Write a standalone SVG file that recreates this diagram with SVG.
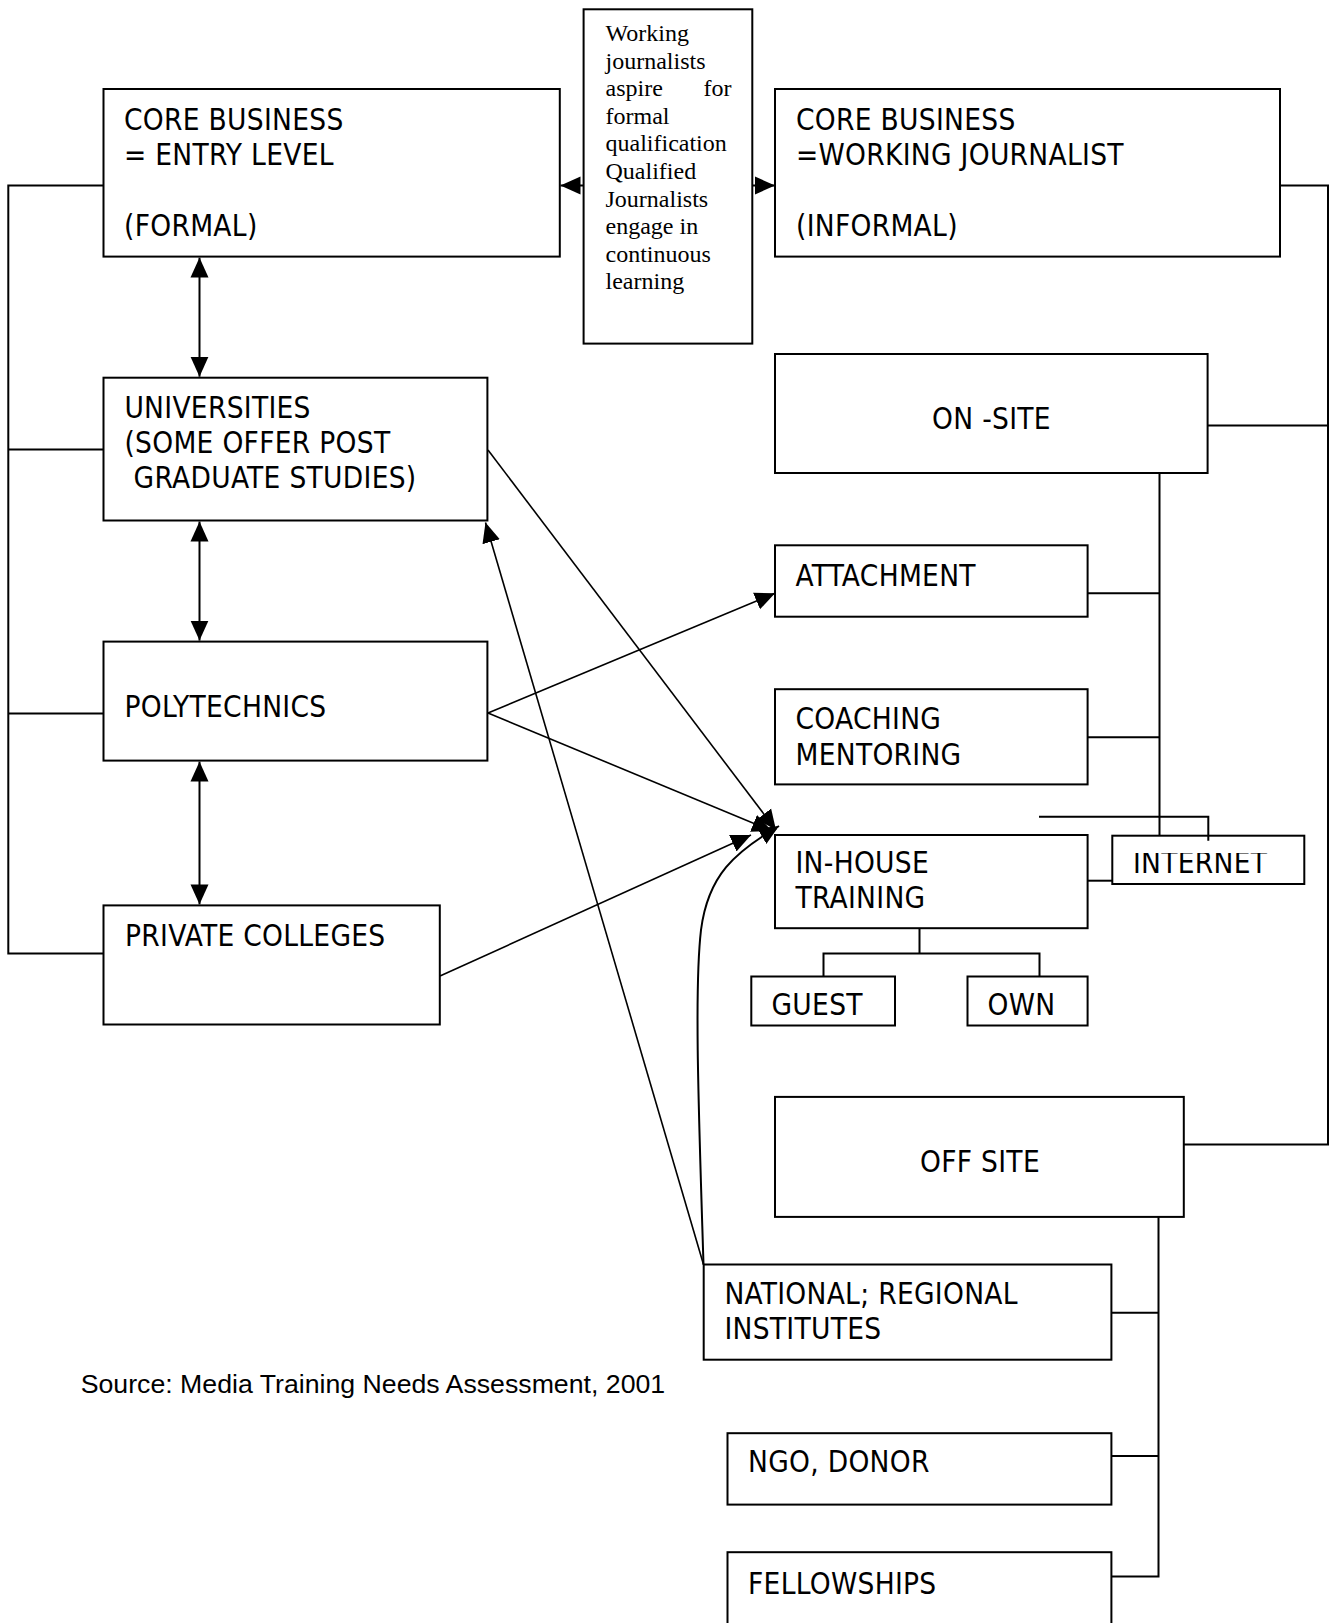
<svg xmlns="http://www.w3.org/2000/svg" width="1337" height="1623" viewBox="0 0 1337 1623">
<defs>
<style>
.box{fill:#fff;stroke:#000;stroke-width:2}
.t{font-family:"DejaVu Sans Condensed","DejaVu Sans",sans-serif;font-stretch:condensed;font-size:29.5px;letter-spacing:0.3px;fill:#000}
.s{font-family:"Liberation Serif","Times New Roman",serif;font-size:24px;fill:#000}
.src{font-family:"Liberation Sans",Arial,sans-serif;font-size:26.7px;fill:#000}
.ln{stroke:#000;stroke-width:2;fill:none}
.dg{stroke:#000;stroke-width:1.6;fill:none}
</style>
<marker id="ah" markerUnits="userSpaceOnUse" markerWidth="20" markerHeight="20" viewBox="0 0 20 20" refX="20" refY="10" orient="auto-start-reverse">
<path d="M0,1 L20,10 L0,19 z" fill="#000"/>
</marker>
<clipPath id="netclip"><rect x="1112" y="853" width="192" height="40"/></clipPath>
</defs>
<rect width="1337" height="1623" fill="#fff"/>

<g id="entry">
<rect class="box" x="103.5" y="89" width="456.3" height="167.6"/>
<text class="t" x="124" y="129.5">CORE BUSINESS</text>
<text class="t" x="124" y="165">= ENTRY LEVEL</text>
<text class="t" x="124" y="236">(FORMAL)</text>
</g>

<g id="note">
<rect class="box" x="583.6" y="9.3" width="168.7" height="334.3"/>
<text class="s" x="605.5" y="41">Working</text>
<text class="s" x="605.5" y="68.6">journalists</text>
<text class="s" x="605.5" y="96.2">aspire</text>
<text class="s" x="731.6" y="96.2" text-anchor="end">for</text>
<text class="s" x="605.5" y="123.8">formal</text>
<text class="s" x="605.5" y="151.4">qualification</text>
<text class="s" x="605.5" y="179">Qualified</text>
<text class="s" x="605.5" y="206.6">Journalists</text>
<text class="s" x="605.5" y="234.2">engage in</text>
<text class="s" x="605.5" y="261.8">continuous</text>
<text class="s" x="605.5" y="289.4">learning</text>
</g>

<g id="working">
<rect class="box" x="775" y="89" width="505" height="167.6"/>
<text class="t" x="796" y="129.5">CORE BUSINESS</text>
<text class="t" x="796" y="165">=WORKING JOURNALIST</text>
<text class="t" x="796" y="236">(INFORMAL)</text>
</g>

<g id="universities">
<rect class="box" x="103.5" y="377.7" width="383.9" height="142.8"/>
<text class="t" x="124.4" y="417.7">UNIVERSITIES</text>
<text class="t" x="124.4" y="452.7">(SOME OFFER POST</text>
<text class="t" x="133.6" y="487.7">GRADUATE STUDIES)</text>
</g>

<g id="onsite">
<rect class="box" x="775" y="354" width="432.6" height="119"/>
<text class="t" x="991.5" y="428.5" text-anchor="middle">ON -SITE</text>
</g>

<g id="attachment">
<rect class="box" x="775" y="545.3" width="312.6" height="71.4"/>
<text class="t" x="795.5" y="586">ATTACHMENT</text>
</g>

<g id="polytechnics">
<rect class="box" x="103.5" y="641.6" width="383.9" height="119"/>
<text class="t" x="124.4" y="716.7">POLYTECHNICS</text>
</g>

<g id="coaching">
<rect class="box" x="775" y="689.2" width="312.6" height="95.2"/>
<text class="t" x="795.5" y="729.3">COACHING</text>
<text class="t" x="795.5" y="765">MENTORING</text>
</g>

<g id="inhouse">
<rect class="box" x="775" y="835" width="312.6" height="93.2"/>
<text class="t" x="795.5" y="873.3">IN-HOUSE</text>
<text class="t" x="795.5" y="908.3">TRAINING</text>
</g>

<g id="internet">
<rect class="box" x="1112.3" y="835.7" width="192" height="48.3"/>
<text class="t" x="1133" y="873.3" clip-path="url(#netclip)">INTERNET</text>
</g>

<g id="private">
<rect class="box" x="103.5" y="905.4" width="336.3" height="119.1"/>
<text class="t" x="125" y="946">PRIVATE COLLEGES</text>
</g>

<g id="guest">
<rect class="box" x="751.3" y="976.5" width="143.7" height="49"/>
<text class="t" x="771.5" y="1015">GUEST</text>
</g>

<g id="own">
<rect class="box" x="967.5" y="976.5" width="120.1" height="49"/>
<text class="t" x="987.6" y="1015">OWN</text>
</g>

<g id="offsite">
<rect class="box" x="775" y="1096.9" width="408.8" height="120"/>
<text class="t" x="980" y="1172.2" text-anchor="middle">OFF SITE</text>
</g>

<g id="national">
<rect class="box" x="703.7" y="1264.5" width="407.7" height="95.2"/>
<text class="t" x="724.4" y="1304.1">NATIONAL; REGIONAL</text>
<text class="t" x="724.4" y="1338.7">INSTITUTES</text>
</g>

<g id="ngo">
<rect class="box" x="727.5" y="1433.2" width="383.9" height="71.4"/>
<text class="t" x="748" y="1472.4">NGO, DONOR</text>
</g>

<g id="fellowships">
<rect class="box" x="727.5" y="1552.2" width="383.9" height="90"/>
<text class="t" x="748" y="1594">FELLOWSHIPS</text>
</g>

<g id="source">
<text class="src" x="80.7" y="1393">Source: Media Training Needs Assessment, 2001</text>
</g>

<g id="connectors">
<path class="ln" d="M103.5,185.5 H8.3 V953.5 H103.5"/>
<path class="ln" d="M8.3,449.5 H103.5"/>
<path class="ln" d="M8.3,713.5 H103.5"/>
<path class="ln" d="M1280,185.5 H1328 V1144.6 H1183.8"/>
<path class="ln" d="M1207.6,425.5 H1328"/>
<path class="ln" d="M1159.5,473 V835.7"/>
<path class="ln" d="M1087.6,593.3 H1159.5"/>
<path class="ln" d="M1087.6,737.3 H1159.5"/>
<path class="ln" d="M1087.6,880.7 H1112.3"/>
<path class="ln" d="M1039,816.7 H1208.3 V840.7"/>
<path class="ln" d="M919.5,928.2 V953.5"/>
<path class="ln" d="M823.5,976.5 V953.5 H1039.5 V976.5"/>
<path class="ln" d="M1158.5,1216.9 V1576.5 H1111.4"/>
<path class="ln" d="M1111.4,1312.8 H1158.5"/>
<path class="ln" d="M1111.4,1456 H1158.5"/>
<line class="ln" x1="583.6" y1="185.5" x2="560.5" y2="185.5" marker-end="url(#ah)"/>
<line class="ln" x1="752.3" y1="185.5" x2="775" y2="185.5" marker-end="url(#ah)"/>
<line class="ln" x1="199.5" y1="257.6" x2="199.5" y2="376.7" marker-start="url(#ah)" marker-end="url(#ah)"/>
<line class="ln" x1="199.5" y1="521.5" x2="199.5" y2="640.6" marker-start="url(#ah)" marker-end="url(#ah)"/>
<line class="ln" x1="199.5" y1="761.6" x2="199.5" y2="904.4" marker-start="url(#ah)" marker-end="url(#ah)"/>
<line class="dg" x1="488" y1="450" x2="776" y2="830" marker-end="url(#ah)"/>
<line class="dg" x1="488" y1="713" x2="775" y2="593.3" marker-end="url(#ah)"/>
<line class="dg" x1="488" y1="713" x2="772" y2="831" marker-end="url(#ah)"/>
<line class="dg" x1="440" y1="976" x2="751" y2="835" marker-end="url(#ah)"/>
<line class="dg" x1="703.5" y1="1264.5" x2="485.5" y2="522.5" marker-end="url(#ah)"/>
<path class="ln" d="M703.5,1264.5 C699,1120 694,990 701,930 C708,875 735,852 779,826" marker-end="url(#ah)"/>
</g>
</svg>
